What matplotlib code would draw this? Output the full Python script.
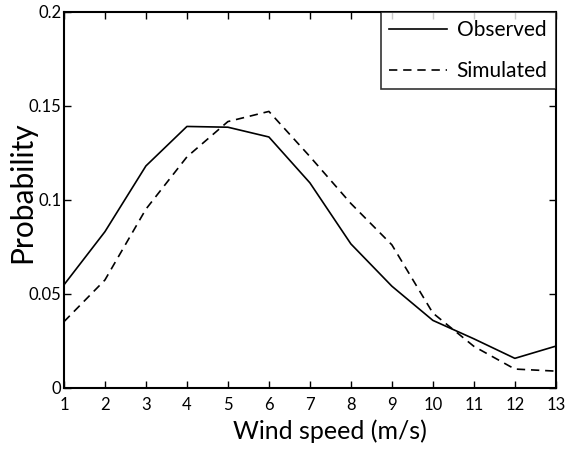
import matplotlib
matplotlib.use("Agg")
import matplotlib.pyplot as plt

plt.rcParams["font.family"] = ["Lato", "DejaVu Sans"]

wind_speed = [1, 2, 3, 4, 5, 6, 7, 8, 9, 10, 11, 12, 13]
observed = [0.0547, 0.083, 0.118, 0.139, 0.1386, 0.1334, 0.109, 0.0765,
            0.054, 0.0358, 0.026, 0.0156, 0.0221]
simulated = [0.0351, 0.0573, 0.095, 0.1228, 0.1416, 0.147, 0.123, 0.098,
             0.076, 0.0397, 0.022, 0.0099, 0.0088]

fig = plt.figure(figsize=(5.76, 4.55), dpi=100)
ax = fig.add_axes([0.111, 0.148, 0.854, 0.826])

ax.plot(wind_speed, observed, color="black", linewidth=1.2, label="Observed")
ax.plot(wind_speed, simulated, color="black", linewidth=1.2,
        linestyle=(0, (5, 3.5)), label="Simulated")

ax.set_xlim(1, 13)
ax.set_ylim(0, 0.2)
ax.set_xticks(wind_speed)
ax.set_yticks([0, 0.05, 0.1, 0.15, 0.2])
ax.set_yticklabels(["0", "0.05", "0.1", "0.15", "0.2"])
ax.tick_params(direction="in", top=True, right=True, length=5, width=1,
               labelsize=12)
ax.tick_params(axis="x", pad=7)
ax.tick_params(axis="y", pad=2)
for sp in ax.spines.values():
    sp.set_linewidth(1.5)

ax.set_xlabel("Wind speed (m/s)", fontsize=18, labelpad=2)
ax.xaxis.set_label_coords(0.54, -0.085)
ax.set_ylabel("Probability", fontsize=21.5, labelpad=-2)
ax.yaxis.set_label_coords(-0.056, 0.52)

leg = ax.legend(loc="upper right", fontsize=15, frameon=True, fancybox=False,
                edgecolor="black", borderaxespad=0, handlelength=2.8,
                handletextpad=0.45, borderpad=0.4, labelspacing=1.0,
                alignment="right")
leg.get_frame().set_linewidth(1.2)

fig.savefig("out.png", dpi=100)
